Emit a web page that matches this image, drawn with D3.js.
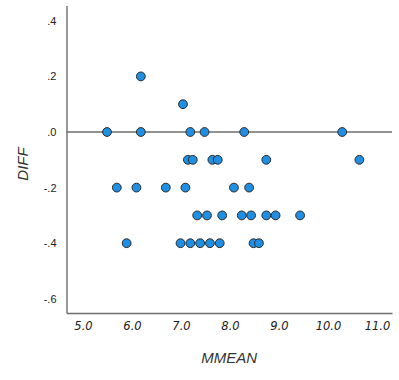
<!DOCTYPE html>
<html><head><meta charset="utf-8">
<script src="https://cdn.jsdelivr.net/npm/d3@7"></script>
<style>body{margin:0;background:#fff}svg{display:block}</style>
</head><body>
<script>
const mmean = [6.18, 7.04,
  5.49, 6.18, 7.19, 7.48, 8.29, 10.29,
  7.14, 7.24, 7.64, 7.75, 8.74, 10.64,
  5.69, 6.09, 6.69, 7.09, 8.08, 8.39,
  7.33, 7.53, 7.84, 8.24, 8.43, 8.74, 8.93, 9.43,
  5.89, 6.99, 7.19, 7.39, 7.59, 7.79, 8.48, 8.59];
const diff = [0.2, 0.1,
  0, 0, 0, 0, 0, 0,
  -0.1, -0.1, -0.1, -0.1, -0.1, -0.1,
  -0.2, -0.2, -0.2, -0.2, -0.2, -0.2,
  -0.3, -0.3, -0.3, -0.3, -0.3, -0.3, -0.3, -0.3,
  -0.4, -0.4, -0.4, -0.4, -0.4, -0.4, -0.4, -0.4];
const xTicks = [5, 6, 7, 8, 9, 10, 11];
const yTicks = [0.4, 0.2, 0, -0.2, -0.4, -0.6];
const refLine = [0];

const W = 399, H = 380;
const svg = d3.select("body").append("svg").attr("width", W).attr("height", H);
const x = d3.scaleLinear().domain([4.663, 11.306]).range([66.5, 392]);
const y = d3.scaleLinear().domain([-0.651, 0.455]).range([313, 5.5]);
const axisColor = "#6e6e6e";

// reference line
svg.selectAll(".ref").data(refLine).enter().append("line")
  .attr("x1", x.range()[0]).attr("x2", x.range()[1])
  .attr("y1", d => y(d)).attr("y2", d => y(d))
  .attr("stroke", axisColor).attr("stroke-width", 1.4);

// axes
const fmtY = d => (d < 0 ? "-" : "") + "." + Math.round(Math.abs(d) * 10);
const yAxis = d3.axisLeft(y).tickValues(yTicks).tickSize(0).tickPadding(10).tickFormat(fmtY);
const gy = svg.append("g").attr("transform", `translate(${x.range()[0]},0)`).call(yAxis);
gy.select(".domain").attr("stroke", axisColor).attr("stroke-width", 1.4);
gy.selectAll("text").attr("font-family", "Liberation Sans, Arial, sans-serif").attr("font-size", 11).attr("fill", "#222");

const xAxis = d3.axisBottom(x).tickValues(xTicks).tickSize(0).tickPadding(9).tickFormat(d => d.toFixed(1));
const gx = svg.append("g").attr("transform", `translate(0,${y.range()[0]})`).call(xAxis);
gx.select(".domain").attr("stroke", axisColor).attr("stroke-width", 1.4);
gx.selectAll("text").attr("font-family", "DejaVu Sans, Verdana, sans-serif").attr("font-style", "italic").attr("font-size", 11.5).attr("fill", "#222");

// points
svg.selectAll(".pt").data(mmean.map((m, i) => [m, diff[i]])).enter().append("circle")
  .attr("cx", d => x(d[0])).attr("cy", d => y(d[1])).attr("r", 4.4)
  .attr("fill", "#1f8fe3").attr("stroke", "#2a2a2a").attr("stroke-width", 1);

// titles
svg.append("text").attr("x", (x.range()[0] + x.range()[1]) / 2).attr("y", 363)
  .attr("text-anchor", "middle").attr("font-family", "Liberation Sans, Arial, sans-serif")
  .attr("font-style", "italic").attr("font-size", 15).attr("fill", "#333").text("MMEAN");
svg.append("text").attr("transform", "translate(28,164) rotate(-90)")
  .attr("text-anchor", "middle").attr("font-family", "Liberation Sans, Arial, sans-serif")
  .attr("font-style", "italic").attr("font-size", 15).attr("fill", "#333").text("DIFF");
</script>
</body></html>
